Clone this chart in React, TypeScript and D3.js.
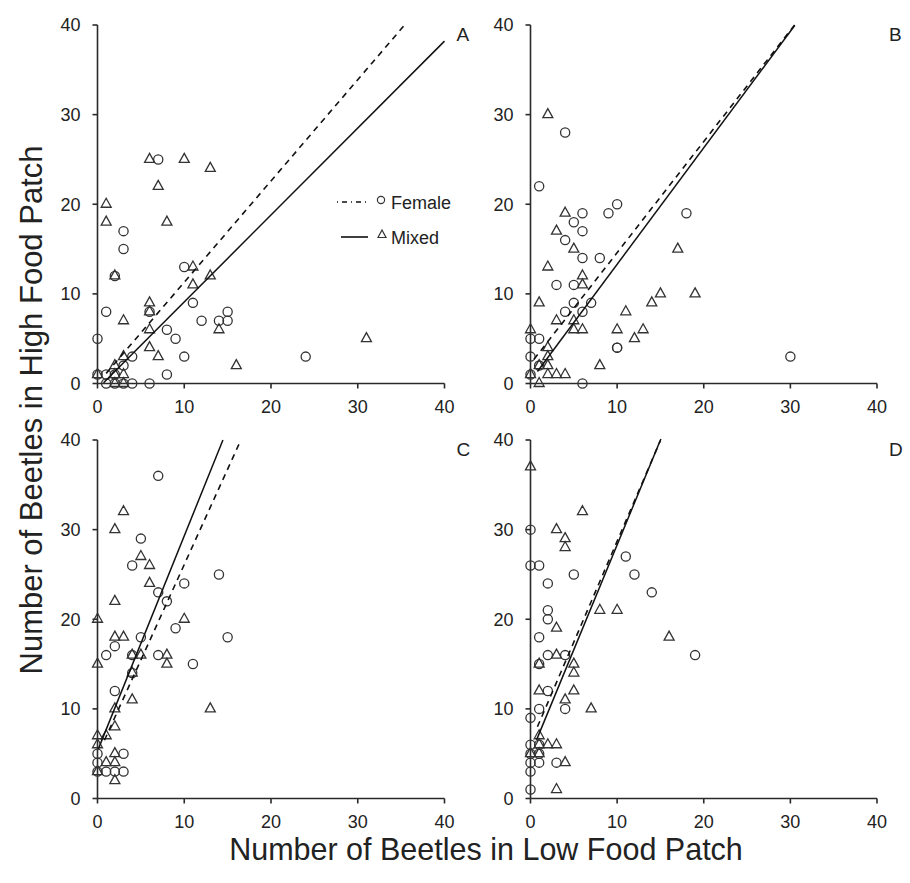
import React from "react";
import * as d3 from "d3";

// ---------- data ----------
const xTicks = [0, 10, 20, 30, 40];
const yTicks = [0, 10, 20, 30, 40];
const panelLabels = ["A", "B", "C", "D"];
const xTitle = "Number of Beetles in Low Food Patch";
const yTitle = "Number of Beetles in High Food Patch";
const legendLabels = ["Female", "Mixed"];

const femaleA: [number, number][] = [
  [7, 25], [3, 17], [3, 15], [10, 13], [2, 12], [11, 9], [6, 8], [1, 8], [12, 7], [14, 7], [15, 8], [15, 7],
  [8, 6], [9, 5], [0, 5], [10, 3], [4, 3], [3, 2], [8, 1], [0, 1], [1, 1], [2, 1], [1, 0], [2, 0], [3, 0],
  [4, 0], [6, 0], [24, 3],
];
const mixedA: [number, number][] = [
  [6, 25], [10, 25], [13, 24], [7, 22], [1, 20], [1, 18], [8, 18], [11, 13], [2, 12], [13, 12], [11, 11],
  [6, 9], [6, 8], [3, 7], [14, 6], [6, 6], [6, 4], [7, 3], [16, 2], [3, 3], [2, 2], [0, 1], [2, 1], [3, 1],
  [2, 0], [3, 0], [31, 5],
];
const femaleB: [number, number][] = [
  [4, 28], [1, 22], [10, 20], [9, 19], [6, 19], [5, 18], [6, 17], [4, 16], [6, 14], [8, 14], [18, 19],
  [3, 11], [5, 11], [5, 9], [7, 9], [4, 8], [6, 8], [10, 4], [10, 4], [0, 5], [1, 5], [0, 3], [1, 2],
  [0, 1], [6, 0], [30, 3],
];
const mixedB: [number, number][] = [
  [2, 30], [4, 19], [3, 17], [5, 15], [2, 13], [17, 15], [6, 12], [6, 11], [1, 9], [5, 7], [3, 7], [11, 8],
  [14, 9], [15, 10], [19, 10], [5, 6], [6, 6], [10, 6], [13, 6], [12, 5], [0, 6], [2, 4], [2, 3], [2, 2],
  [1, 2], [8, 2], [2, 1], [3, 1], [4, 1], [1, 0], [0, 1],
];
const femaleC: [number, number][] = [
  [7, 36], [5, 29], [4, 26], [14, 25], [10, 24], [7, 23], [8, 22], [9, 19], [15, 18], [5, 18], [2, 17],
  [1, 16], [4, 16], [7, 16], [11, 15], [4, 14], [2, 12], [0, 5], [3, 5], [0, 4], [0, 3], [1, 3], [3, 3], [2, 3],
];
const mixedC: [number, number][] = [
  [3, 32], [2, 30], [5, 27], [6, 26], [6, 24], [2, 22], [0, 20], [10, 20], [2, 18], [3, 18], [4, 16], [5, 16],
  [8, 16], [8, 15], [0, 15], [4, 14], [4, 11], [2, 10], [13, 10], [2, 8], [0, 7], [1, 7], [0, 6], [2, 5],
  [1, 4], [2, 4], [0, 3], [2, 2],
];
const femaleD: [number, number][] = [
  [0, 30], [11, 27], [0, 26], [1, 26], [5, 25], [12, 25], [2, 24], [14, 23], [2, 21], [2, 20], [1, 18],
  [19, 16], [2, 16], [4, 16], [1, 15], [2, 12], [4, 10], [1, 10], [0, 9], [0, 6], [1, 6], [0, 5], [1, 5],
  [0, 4], [1, 4], [3, 4], [0, 3], [0, 1],
];
const mixedD: [number, number][] = [
  [0, 37], [6, 32], [3, 30], [4, 29], [4, 28], [8, 21], [10, 21], [3, 19], [16, 18], [3, 16], [1, 15],
  [5, 15], [5, 14], [1, 12], [5, 12], [4, 11], [7, 10], [1, 7], [2, 6], [3, 6], [1, 6], [0, 5], [1, 5],
  [4, 4], [3, 1],
];
// regression fits: [intercept, slope, xStart, xEnd]
const femaleFits: [number, number, number, number][] = [
  [0, 1.13, 1, 35.4],
  [2.2, 1.24, 0.4, 30.5],
  [4.8, 2.13, 0.8, 16.5],
  [6.2, 2.25, 0.8, 15.0],
];
const mixedFits: [number, number, number, number][] = [
  [-0.6, 0.97, 0.7, 40],
  [0.3, 1.3, 0.8, 30.5],
  [5.3, 2.4, 0.1, 14.46],
  [4.9, 2.34, 0.7, 15.05],
];

const femaleSets = [femaleA, femaleB, femaleC, femaleD];
const mixedSets = [mixedA, mixedB, mixedC, mixedD];

// ---------- layout ----------
const W = 910;
const H = 883;
const colX: [number, number][] = [
  [97.5, 444.5],
  [530.5, 877],
];
const rowY: [number, number][] = [
  [383.5, 25],
  [798.5, 440],
];
const FONT = "'Liberation Sans', Arial, Helvetica, sans-serif";
const INK = "#2a2a2a";

function triPath(cx: number, cy: number, w: number, h: number) {
  return `M${cx},${cy - (2 * h) / 3}L${cx + w / 2},${cy + h / 3}L${cx - w / 2},${cy + h / 3}Z`;
}

function Panel({ idx }: { idx: number }) {
  const col = idx % 2;
  const row = Math.floor(idx / 2);
  const x = d3.scaleLinear().domain([0, 40]).range(colX[col]);
  const y = d3.scaleLinear().domain([0, 40]).range(rowY[row]);
  const [x0, x1] = colX[col];
  const [y0, y1] = rowY[row];
  const line = d3
    .line<[number, number]>()
    .x((d) => x(d[0]))
    .y((d) => y(d[1]));
  const fitPts = (f: [number, number, number, number]): [number, number][] => [
    [f[2], f[0] + f[1] * f[2]],
    [f[3], f[0] + f[1] * f[3]],
  ];
  return (
    <g>
      {/* axes */}
      <line x1={x0} x2={x0} y1={y0} y2={y1} stroke={INK} strokeWidth={1.6} />
      <line x1={x0} x2={x1} y1={y0} y2={y0} stroke={INK} strokeWidth={1.6} />
      {yTicks.map((t) => (
        <g key={"y" + t}>
          <line x1={x0 - 5} x2={x0} y1={y(t)} y2={y(t)} stroke={INK} strokeWidth={1.6} />
          <text
            x={x0 - 17}
            y={y(t)}
            dy="0.36em"
            textAnchor="end"
            fontSize={18}
            fontFamily={FONT}
            fill="#222"
          >
            {t}
          </text>
        </g>
      ))}
      {xTicks.map((t) => (
        <g key={"x" + t}>
          <line x1={x(t)} x2={x(t)} y1={y0} y2={y0 + 5} stroke={INK} strokeWidth={1.6} />
          <text
            x={x(t)}
            y={y0 + 29}
            textAnchor="middle"
            fontSize={18}
            fontFamily={FONT}
            fill="#222"
          >
            {t}
          </text>
        </g>
      ))}
      {/* points */}
      {femaleSets[idx].map((d, i) => (
        <circle
          key={"f" + i}
          cx={x(d[0])}
          cy={y(d[1])}
          r={4.6}
          fill="none"
          stroke="#333"
          strokeWidth={1.3}
        />
      ))}
      {mixedSets[idx].map((d, i) => (
        <path
          key={"m" + i}
          d={triPath(x(d[0]), y(d[1]), 10, 9)}
          fill="none"
          stroke="#333"
          strokeWidth={1.3}
        />
      ))}
      {/* fits */}
      <path
        d={line(fitPts(femaleFits[idx])) || ""}
        fill="none"
        stroke="#111"
        strokeWidth={1.6}
        strokeDasharray="6,5"
      />
      <path d={line(fitPts(mixedFits[idx])) || ""} fill="none" stroke="#111" strokeWidth={1.5} />
      <text x={x1 + 12} y={y1 + 16} fontSize={19} fontFamily={FONT} fill="#222">
        {panelLabels[idx]}
      </text>
    </g>
  );
}

export default function App() {
  return (
    <svg
      width={W}
      height={H}
      style={{ position: "absolute", left: 0, top: 0, background: "#fff" }}
    >
      <rect width={W} height={H} fill="#fff" />
      {[0, 1, 2, 3].map((i) => (
        <Panel key={i} idx={i} />
      ))}
      {/* legend in panel A */}
      <g fontFamily={FONT} fontSize={18} fill="#222">
        <line x1={337} x2={367} y1={202} y2={202} stroke="#111" strokeWidth={1.5} strokeDasharray="1,4,5,4" />
        <circle cx={381} cy={200} r={3.6} fill="none" stroke="#333" strokeWidth={1.2} />
        <text x={391} y={209}>
          {legendLabels[0]}
        </text>
        <line x1={341} x2={368} y1={237} y2={237} stroke="#111" strokeWidth={1.6} />
        <path d={triPath(382, 235, 8, 7.5)} fill="none" stroke="#333" strokeWidth={1.2} />
        <text x={391} y={244}>
          {legendLabels[1]}
        </text>
      </g>
      {/* axis titles */}
      <text
        x={486}
        y={860}
        textAnchor="middle"
        fontSize={30.5}
        fontFamily={FONT}
        fill="#222"
      >
        {xTitle}
      </text>
      <text
        transform="translate(42,410) rotate(-90)"
        textAnchor="middle"
        fontSize={31}
        fontFamily={FONT}
        fill="#222"
      >
        {yTitle}
      </text>
    </svg>
  );
}
